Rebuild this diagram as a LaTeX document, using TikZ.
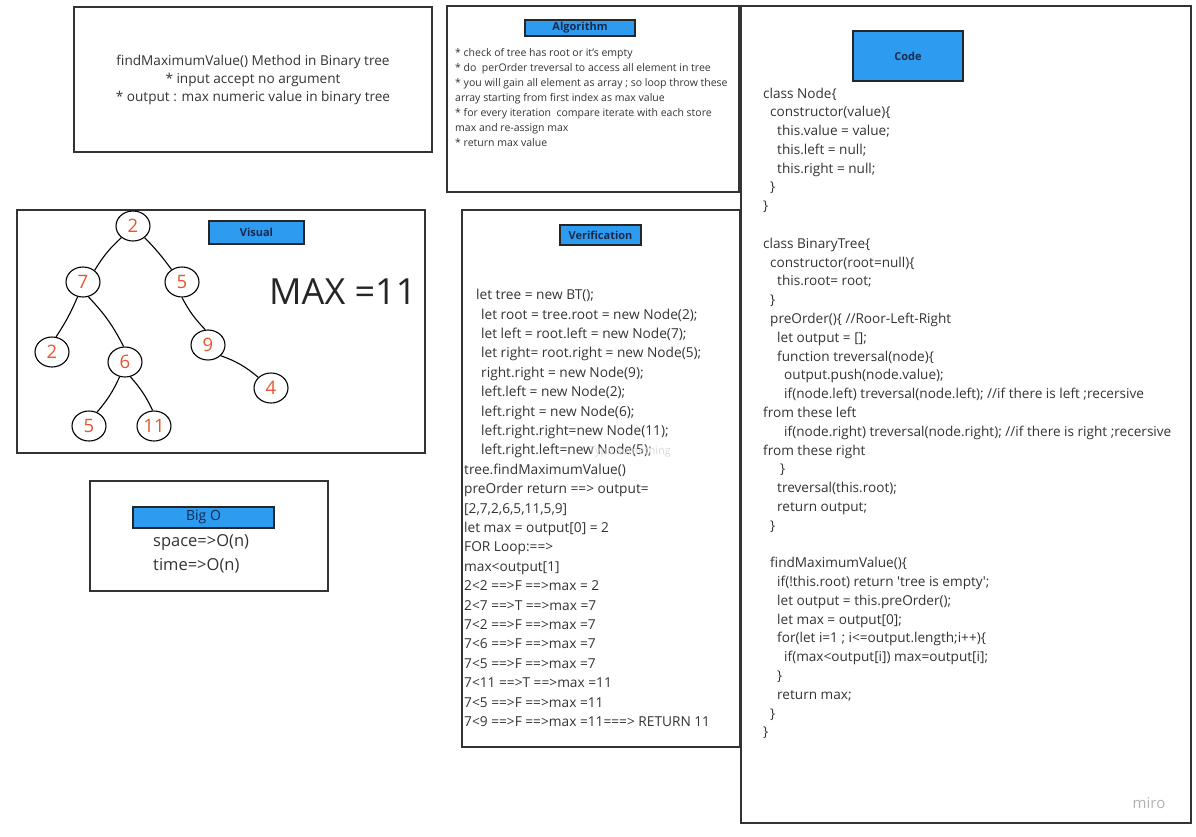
\documentclass[tikz,border=0pt]{standalone}
\usepackage{fontspec}
\setmainfont{Open Sans}
\usetikzlibrary{shapes.geometric}
\definecolor{miroblue}{HTML}{2D9BF0}
\definecolor{inkgray}{HTML}{333333}
\definecolor{numred}{HTML}{E8542F}
\definecolor{hdrink}{HTML}{1B2A4A}
\newcommand{\indnt}[1]{\hspace*{#1pt}}
\newcommand{\fsz}[2]{\fontsize{#1}{#2}\selectfont}
\begin{document}
\begin{tikzpicture}[x=1pt,y=-1pt,text=inkgray,
  panel/.style={draw=inkgray,line width=1.3pt},
  hdr/.style={draw=black!85,line width=1.2pt,fill=miroblue,text=hdrink,inner sep=0pt,font=\fsz{11}{13}\bfseries},
  tnode/.style={ellipse,draw=black,line width=1.1pt,minimum width=34pt,minimum height=30pt,inner sep=0pt,text=numred,font=\fsz{18.5}{20}},
  tedge/.style={line width=1.1pt},
  body/.style={anchor=north west,align=left,inner sep=0pt}]
  \useasboundingbox (0,0) rectangle (1196,836);
  % panels
  \draw[panel] (74,7) rectangle (432,152);
  \draw[panel] (447,6) rectangle (739,192);
  \draw[panel] (17,210) rectangle (425,453);
  \draw[panel] (90,481) rectangle (328,591);
  \draw[panel] (462,210) rectangle (740,747);
  \draw[panel] (741,6) rectangle (1191,823);

  % problem statement
  \node[align=center,font=\fsz{13.6}{17.6}] (title) at (253,80)
    {findMaximumValue() Method in Binary tree\\ * input accept no argument\\ * output : max numeric value in binary tree};

  % algorithm
  \node[hdr,minimum width=110pt,minimum height=16pt] (alghdr) at (580,28) {Algorithm};
  \node[body,font=\fsz{10.5}{15}] (algtxt) at (455,48)
    {* check of tree has root or it's empty\\
     * do \ perOrder treversal to access all element in tree\\
     * you will gain all element as array ; so loop throw these\\
     array starting from first index as max value\\
     * for every iteration \ compare iterate with each store\\
     max and re-assign max\\
     * return max value};

  % visual
  \node[hdr,minimum width=95pt,minimum height=23pt] (vishdr) at (256.5,232.5) {Visual};
  \node[tnode] (r) at (133,226) {2};
  \node[tnode] (l) at (83,282) {7};
  \node[tnode] (rr) at (182,282) {5};
  \node[tnode] (ll) at (52,352) {2};
  \node[tnode] (lr) at (125,362) {6};
  \node[tnode] (rrr) at (208,345) {9};
  \node[tnode] (rrrr) at (271,388) {4};
  \node[tnode] (lrl) at (89,426) {5};
  \node[tnode] (lrr) at (154,426) {11};
  \draw[tedge] (r.225) to[bend right=8] (l.45);
  \draw[tedge] (r.315) to[bend left=4] (rr.130);
  \draw[tedge] (l.250) to[bend left=5] (ll.75);
  \draw[tedge] (l.290) to[bend left=8] (lr.95);
  \draw[tedge] (rr.270) to[bend right=8] (rrr.100);
  \draw[tedge] (rrr.-40) to[bend left=10] (rrrr.140);
  \draw[tedge] (lr.-110) to[bend left=8] (lrl.60);
  \draw[tedge] (lr.-70) to[bend left=8] (lrr.95);
  \node[anchor=base west,inner sep=0pt,text=black!85,font=\fsz{36}{40}] (maxlbl) at (269,304) {MAX =11};

  % big o
  \node[hdr,minimum width=141pt,minimum height=21pt,font=\fsz{14}{16}] (bighdr) at (203.5,517.5) {Big O};
  \node[body,font=\fsz{16.5}{24}] (bigtxt) at (153,534) {space=>O(n)\\ time=>O(n)};

  % verification
  \node[hdr,minimum width=81pt,minimum height=20pt] (verhdr) at (600.5,235) {Verification};
  \node[body,font=\fsz{13.7}{19.4}] (vertxt) at (464,289)
    {\indnt{12}let tree = new BT();\\
     \indnt{17}let root = tree.root = new Node(2);\\
     \indnt{17}let left = root.left = new Node(7);\\
     \indnt{17}let right= root.right = new Node(5);\\
     \indnt{17}right.right = new Node(9);\\
     \indnt{17}left.left = new Node(2);\\
     \indnt{17}left.right = new Node(6);\\
     \indnt{17}left.right.right=new Node(11);\\
     \indnt{17}left.right.left=new Node(5);\\
     tree.findMaximumValue()\\
     preOrder return ==> output=\\
     {}[2,7,2,6,5,11,5,9]\\
     let max = output[0] = 2\\
     FOR Loop:==>\\
     max<output[1]\\
     2<2 ==>F ==>max = 2\\
     2<7 ==>T ==>max =7\\
     7<2 ==>F ==>max =7\\
     7<6 ==>F ==>max =7\\
     7<5 ==>F ==>max =7\\
     7<11 ==>T ==>max =11\\
     7<5 ==>F ==>max =11\\
     7<9 ==>F ==>max =11===> RETURN 11};
  \node[text=black!15,font=\fsz{11}{13}] (hint) at (630,452) {Type something};

  % code
  \node[hdr,minimum width=110pt,minimum height=50pt] (codehdr) at (908,56) {Code};
  \node[body,font=\fsz{13.6}{18.79}] (codetxt) at (763,87.5)
    {class Node\{\\
     \indnt{7}constructor(value)\{\\
     \indnt{14}this.value = value;\\
     \indnt{14}this.left = null;\\
     \indnt{14}this.right = null;\\
     \indnt{7}\}\\
     \}\\
     \mbox{}\\
     class BinaryTree\{\\
     \indnt{7}constructor(root=null)\{\\
     \indnt{14}this.root= root;\\
     \indnt{7}\}\\
     \indnt{7}preOrder()\{ //Roor-Left-Right\\
     \indnt{14}let output = [];\\
     \indnt{14}function treversal(node)\{\\
     \indnt{21}output.push(node.value);\\
     \indnt{21}if(node.left) treversal(node.left); //if there is left ;recersive\\
     from these left\\
     \indnt{21}if(node.right) treversal(node.right); //if there is right ;recersive\\
     from these right\\
     \indnt{17}\}\\
     \indnt{14}treversal(this.root);\\
     \indnt{14}return output;\\
     \indnt{7}\}\\
     \mbox{}\\
     \indnt{7}findMaximumValue()\{\\
     \indnt{14}if(!this.root) return \textquotesingle tree is empty\textquotesingle;\\
     \indnt{14}let output = this.preOrder();\\
     \indnt{14}let max = output[0];\\
     \indnt{14}for(let i=1 ; i<=output.length;i++)\{\\
     \indnt{21}if(max<output[i]) max=output[i];\\
     \indnt{14}\}\\
     \indnt{14}return max;\\
     \indnt{7}\}\\
     \}};
  \node[text=black!30,font=\fsz{15}{17}] (miro) at (1149,803) {miro};
\end{tikzpicture}
\end{document}
